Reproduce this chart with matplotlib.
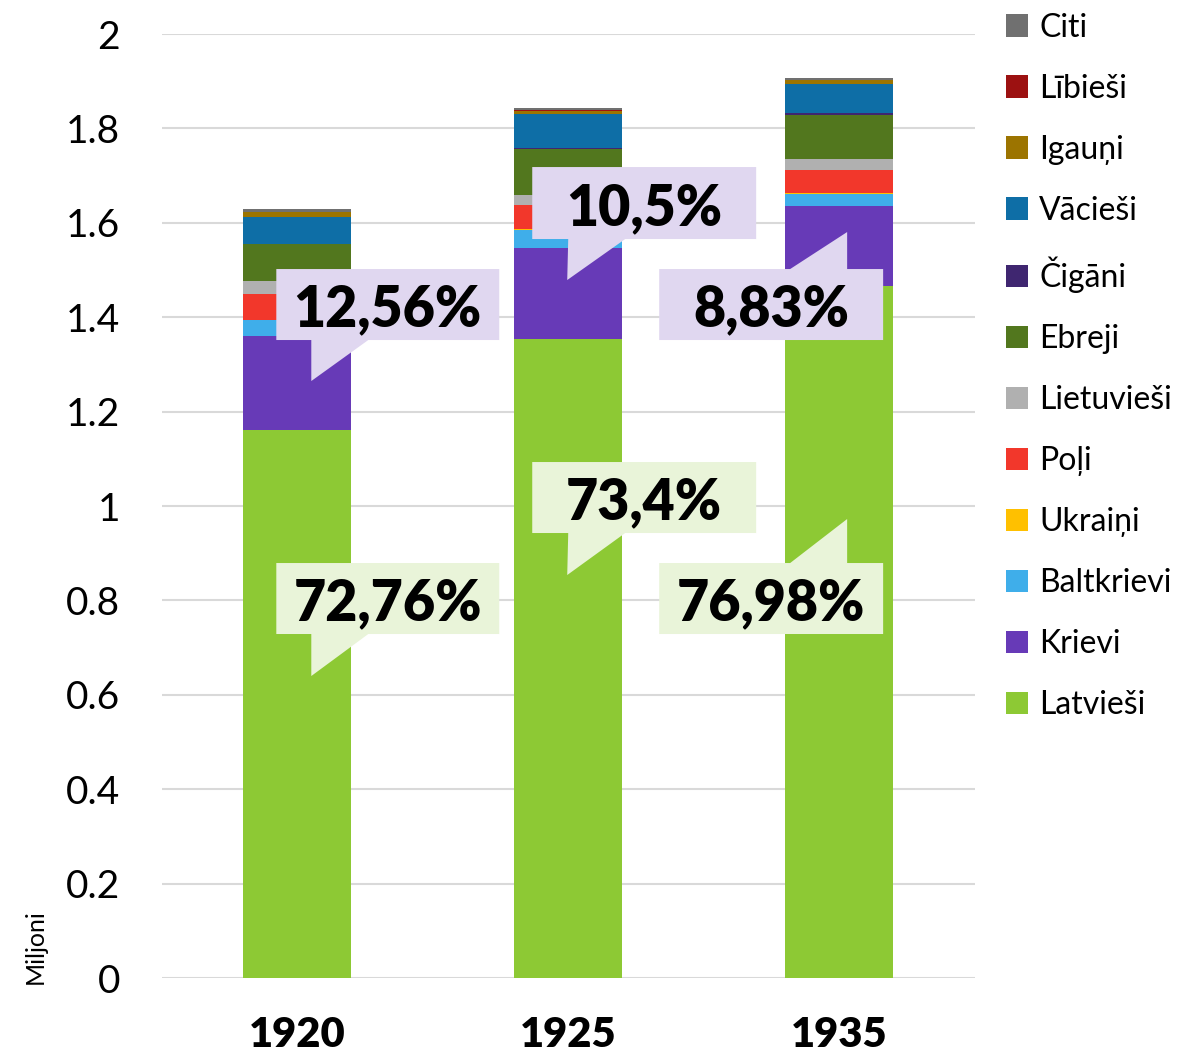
"""Stacked population bars for Latvia (1920, 1925, 1935) by ethnicity."""

import matplotlib

matplotlib.use("Agg")

import matplotlib.pyplot as plt
import numpy as np
from matplotlib.patches import Patch, Polygon

plt.rcParams["font.family"] = ["Lato", "DejaVu Sans"]

years = ["1920", "1925", "1935"]

groups = ["Latvieši", "Krievi", "Baltkrievi", "Ukraiņi", "Poļi", "Lietuvieši",
          "Ebreji", "Čigāni", "Vācieši", "Igauņi", "Lībieši", "Citi"]

# millions of people, per year
latviesi = [1.161, 1.354, 1.467]
krievi = [0.199, 0.193, 0.168]
baltkrievi = [0.034, 0.038, 0.027]
ukraini = [0.001, 0.001, 0.002]
poli = [0.054, 0.051, 0.049]
lietuviesi = [0.027, 0.023, 0.023]
ebreji = [0.079, 0.096, 0.093]
cigani = [0.001, 0.003, 0.004]
vaciesi = [0.057, 0.071, 0.062]
igauni = [0.009, 0.008, 0.007]
libiesi = [0.001, 0.001, 0.001]
citi = [0.006, 0.005, 0.003]

series = [latviesi, krievi, baltkrievi, ukraini, poli, lietuviesi,
          ebreji, cigani, vaciesi, igauni, libiesi, citi]

colors = ["#8DC934", "#673AB7", "#3FAEEA", "#FFC000", "#F2372B", "#B0B0B0",
          "#52771E", "#3F2670", "#0E6EA6", "#9C7400", "#9C1111", "#707070"]

# callout labels: minority share (top row) and Latvian share (bottom row)
minor_labels = ["12,56%", "10,5%", "8,83%"]
major_labels = ["72,76%", "73,4%", "76,98%"]

fig = plt.figure(figsize=(11.9, 10.54), dpi=100)
ax = fig.add_axes([0.136, 0.0721, 0.683, 0.8956])

x = np.arange(len(years))
bottom = np.zeros(len(years))
for vals, col, name in zip(series, colors, groups):
    ax.bar(x, vals, width=0.4, bottom=bottom, color=col, label=name, zorder=2)
    bottom += np.array(vals)

ax.set_xlim(-0.5, 2.5)
ax.set_ylim(0, 2)
ax.set_yticks(np.arange(0, 2.01, 0.2))
ax.set_yticklabels(["0", "0.2", "0.4", "0.6", "0.8", "1", "1.2", "1.4", "1.6", "1.8", "2"])
ax.yaxis.grid(True, color="#D9D9D9", linewidth=1.5, zorder=0)
ax.set_axisbelow(True)
for s in ax.spines.values():
    s.set_visible(False)
ax.tick_params(axis="y", length=0, labelsize=28, pad=30)
ax.tick_params(axis="x", length=0, labelsize=30, pad=27)
ax.set_xticks(x)
ax.set_xticklabels(years, fontweight="heavy")

fig.text(0.03, 0.1015, "Miljoni", rotation=90, ha="center", va="center", fontsize=18)


def px(xp, yp):
    # pixel position in the reference -> data coordinates
    return ((xp - 297) / 271.0, (978 - yp) / 472.0)


def callout(box, tail, text, face):
    x0, y0, x1, y1 = box
    (tb0, tb1, tip, side) = tail
    if side == "bottom":
        pts = [(x0, y0), (x1, y0), (x1, y1), (tb1, y1), tip, (tb0, y1), (x0, y1)]
    else:
        pts = [(x0, y0), (tb0, y0), tip, (tb1, y0), (x1, y0), (x1, y1), (x0, y1)]
    poly = Polygon([px(a, b) for a, b in pts], closed=True, facecolor=face,
                   edgecolor="none", zorder=5)
    ax.add_patch(poly)
    cx, cy = px((x0 + x1) / 2, (y0 + y1) / 2 + 5)
    ax.text(cx, cy, text, ha="center", va="center", fontsize=40,
            fontweight="heavy", zorder=6)


purple = "#E0D7F0"
green = "#E9F4D9"

callout((276, 269, 499, 340), (311, 368, (311, 381), "bottom"), minor_labels[0], purple)
callout((532, 167, 756, 239), (568, 625, (567, 280), "bottom"), minor_labels[1], purple)
callout((659, 269, 883, 340), (790, 847, (847, 232), "top"), minor_labels[2], purple)

callout((276, 563, 499, 634), (311, 368, (311, 676), "bottom"), major_labels[0], green)
callout((532, 462, 756, 533), (568, 625, (567, 575), "bottom"), major_labels[1], green)
callout((659, 563, 883, 634), (790, 847, (847, 519), "top"), major_labels[2], green)

handles = [Patch(facecolor=c, label=g) for g, c in zip(groups, colors)][::-1]
fig.legend(handles=handles, loc="upper left", bbox_to_anchor=(0.829, 1.006),
           frameon=False, fontsize=23, handlelength=0.7, handleheight=0.7,
           handletextpad=0.35, labelspacing=0.97, borderaxespad=0.2)

fig.savefig("out.png", dpi=100)
